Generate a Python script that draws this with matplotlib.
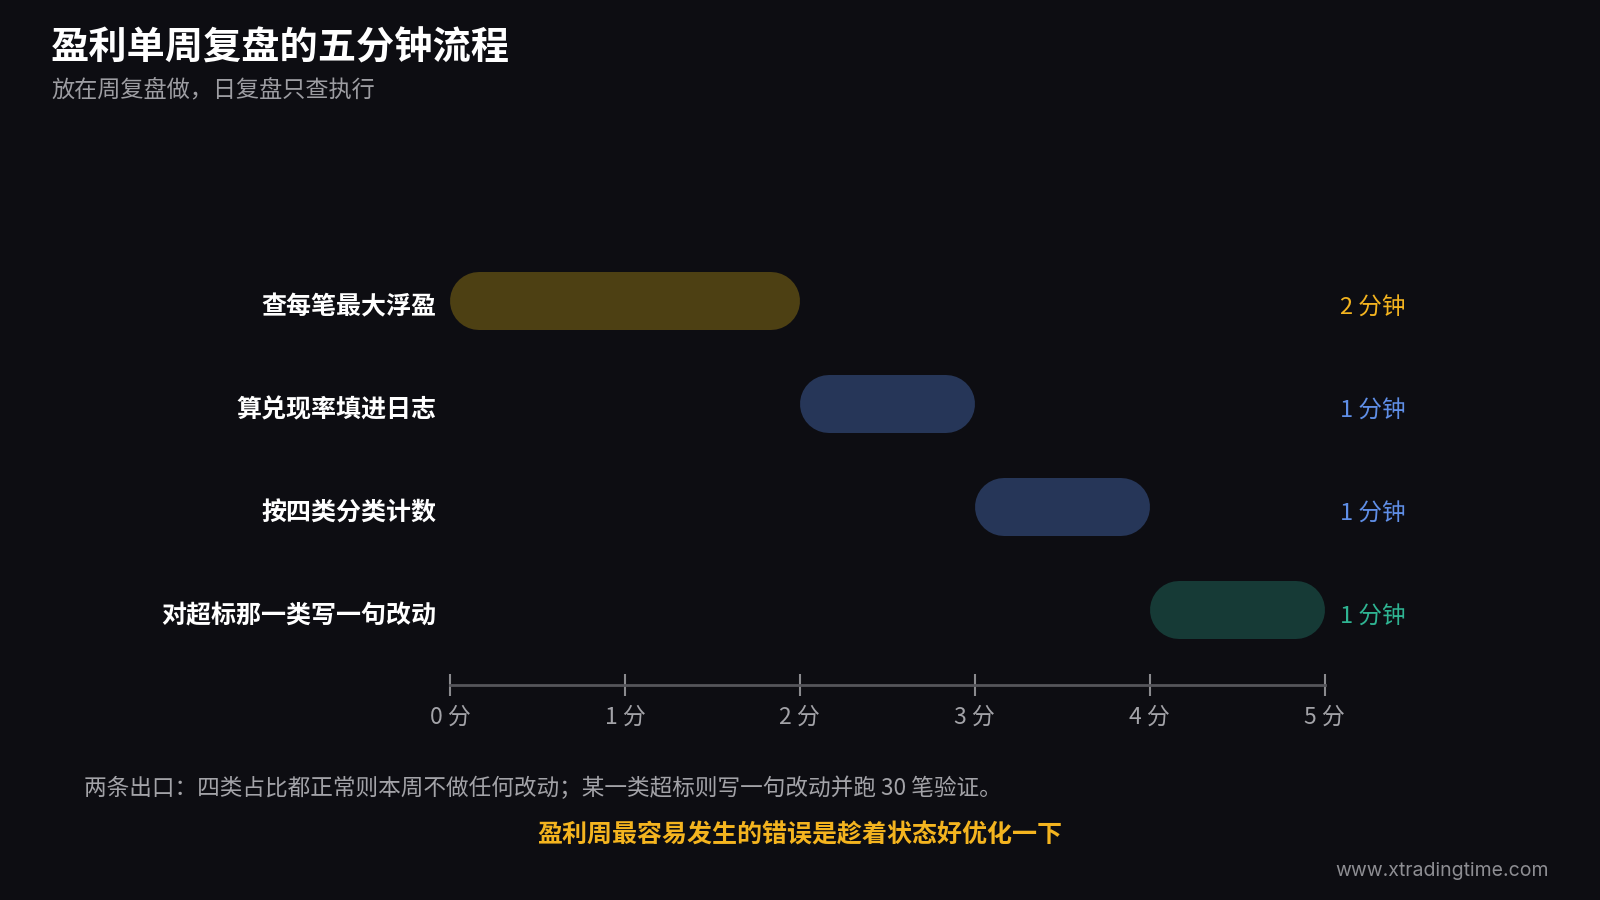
import matplotlib
matplotlib.use('Agg')
import matplotlib.pyplot as plt

plt.rcParams['font.family'] = ['Noto Sans CJK SC', 'DejaVu Sans']

# ========== 数据 ==========
steps = ["查每笔最大浮盈", "算兑现率填进日志", "按四类分类计数", "对超标那一类写一句改动"]
durations = [2, 1, 1, 1]          # 分钟
step_colors = ['#4d4013', '#263658', '#263658', '#163a36']
label_colors = ['#f4b41f', '#5f8ee6', '#5f8ee6', '#2fb492']
duration_labels = ["2 分钟", "1 分钟", "1 分钟", "1 分钟"]
x_ticks = [0, 1, 2, 3, 4, 5]
x_tick_labels = ["0 分", "1 分", "2 分", "3 分", "4 分", "5 分"]

title = "盈利单周复盘的五分钟流程"
subtitle = "放在周复盘做，日复盘只查执行"
note = "两条出口：四类占比都正常则本周不做任何改动；某一类超标则写一句改动并跑 30 笔验证。"
warning = "盈利周最容易发生的错误是趁着状态好优化一下"
site = "www.xtradingtime.com"

BG = '#0d0d12'
W, H = 1600, 900


def main():
    fig = plt.figure(figsize=(16, 9), dpi=100, facecolor=BG)

    # 坐标区：x 0..5 分钟对应像素 450..1324
    left, right, top, bottom = 450, 1324.5, 250, 685
    ax = fig.add_axes([left / W, 1 - bottom / H, (right - left) / W, (bottom - top) / H])
    ax.set_facecolor(BG)
    ax.set_xlim(x_ticks[0], x_ticks[-1])
    row_px, row_gap = 301, 103
    ax.set_ylim((bottom - row_px) / row_gap, (top - row_px) / row_gap)

    bar_px = 58
    lw_pt = bar_px * 72 / fig.dpi
    px_per_min = (right - left) / (x_ticks[-1] - x_ticks[0])
    r = (bar_px / 2) / px_per_min

    start = 0
    for i, (d, c) in enumerate(zip(durations, step_colors)):
        ax.plot([start + r, start + d - r], [i, i], color=c, lw=lw_pt,
                solid_capstyle='round', zorder=3)
        # 左侧步骤名
        ax.annotate(steps[i], xy=(0, i), xycoords=('axes fraction', 'data'),
                    xytext=(-10, -4.5), textcoords='offset points', ha='right', va='center',
                    color='white', fontsize=18, fontweight='bold')
        # 右侧时长
        ax.annotate(duration_labels[i], xy=(1, i), xycoords=('axes fraction', 'data'),
                    xytext=(11.5, -4.5), textcoords='offset points', ha='left', va='center',
                    color=label_colors[i], fontsize=17, fontweight='medium')
        start += d

    ax.set_yticks([])

    ax.set_xticks(x_ticks)
    ax.set_xticklabels(x_tick_labels, color='#a3a3a8', fontsize=16.5)
    ax.tick_params(axis='x', direction='inout', length=16, width=1.5,
                   color='#8a8a8e', pad=7)

    for s in ['top', 'right', 'left']:
        ax.spines[s].set_visible(False)
    ax.spines['bottom'].set_color('#55555a')
    ax.spines['bottom'].set_linewidth(2)

    # 标题与注释
    fig.text(51 / W, 1 - 48 / H, title, color='white', fontsize=27.5,
             fontweight='bold', ha='left', va='center')
    fig.text(51 / W, 1 - 91 / H, subtitle, color='#9d9da2', fontsize=16.7,
             ha='left', va='center')
    fig.text(84 / W, 1 - 788 / H, note, color='#a3a3a8', fontsize=16.3,
             ha='left', va='center')
    fig.text(800 / W, 1 - 835 / H, warning, color='#f4b41f', fontsize=18,
             fontweight='bold', ha='center', va='center')
    fig.text(1549 / W, 1 - 871 / H, site, color='#8e8e93', fontsize=14,
             ha='right', va='center', family=['Inter', 'DejaVu Sans'])

    plt.savefig('out.png', dpi=100, facecolor=BG)
    plt.close()


if __name__ == "__main__":
    main()
